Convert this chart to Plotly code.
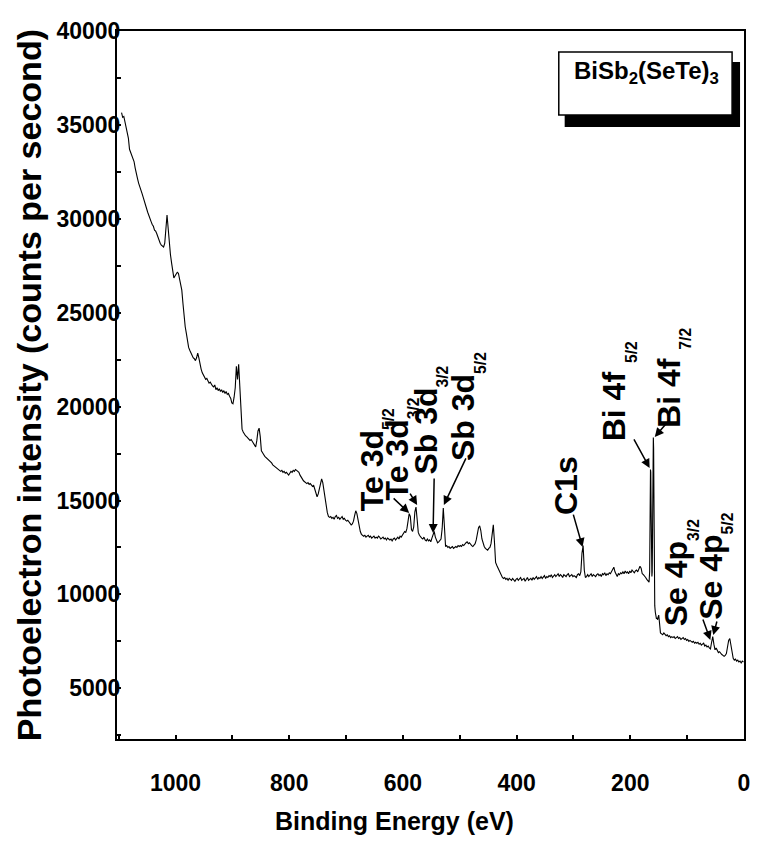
import plotly.graph_objects as go

# XPS survey spectrum of BiSb2(SeTe)3: binding energy (eV) and intensity (counts/s)
binding_energy = [
    1095, 1093, 1091, 1089, 1087, 1085, 1083, 1081, 1079, 1077, 1075, 1073, 1071, 1069, 1067, 1065,
    1063, 1061, 1059, 1057, 1055, 1053, 1051, 1049, 1047, 1045, 1043, 1041, 1039, 1037, 1035, 1033,
    1031, 1029, 1027, 1025, 1023, 1021, 1019, 1017, 1015, 1013, 1011, 1009, 1007, 1005, 1003, 1001,
    999, 997, 995, 993, 991, 989, 987, 985, 983, 981, 979, 977, 975, 973, 971, 969,
    967, 965, 963, 961, 959, 957, 955, 953, 951, 949, 947, 945, 943, 941, 939, 937,
    935, 933, 931, 929, 927, 925, 923, 921, 919, 917, 915, 913, 911, 909, 907, 905,
    903, 901, 899, 897, 895, 893, 891, 889, 887, 885, 883, 881, 879, 877, 875, 873,
    871, 869, 867, 865, 863, 861, 859, 857, 855, 853, 851, 849, 847, 845, 843, 841,
    839, 837, 835, 833, 831, 829, 827, 825, 823, 821, 819, 817, 815, 813, 811, 809,
    807, 805, 803, 801, 799, 797, 795, 793, 791, 789, 787, 785, 783, 781, 779, 777,
    775, 773, 771, 769, 767, 765, 763, 761, 759, 757, 755, 753, 751, 749, 747, 745,
    743, 741, 739, 737, 735, 733, 731, 729, 727, 725, 723, 721, 719, 717, 715, 713,
    711, 709, 707, 705, 703, 701, 699, 697, 695, 693, 691, 689, 687, 685, 683, 681,
    679, 677, 675, 673, 671, 669, 667, 665, 663, 661, 659, 657, 655, 653, 651, 649,
    647, 645, 643, 641, 639, 637, 635, 633, 631, 629, 627, 625, 623, 621, 619, 617,
    615, 613, 611, 609, 607, 605, 603, 601, 599, 597, 595, 593, 591, 589, 587, 585,
    583, 581, 579, 577, 575, 573, 571, 569, 567, 565, 563, 561, 559, 557, 555, 553,
    551, 549, 547, 545, 543, 541, 539, 537, 535, 533, 531, 529, 527, 525, 523, 521,
    519, 517, 515, 513, 511, 509, 507, 505, 503, 501, 499, 497, 495, 493, 491, 489,
    487, 485, 483, 481, 479, 477, 475, 473, 471, 469, 467, 465, 463, 461, 459, 457,
    455, 453, 451, 449, 447, 445, 443, 441, 439, 437, 435, 433, 431, 429, 427, 425,
    423, 421, 419, 417, 415, 413, 411, 409, 407, 405, 403, 401, 399, 397, 395, 393,
    391, 389, 387, 385, 383, 381, 379, 377, 375, 373, 371, 369, 367, 365, 363, 361,
    359, 357, 355, 353, 351, 349, 347, 345, 343, 341, 339, 337, 335, 333, 331, 329,
    327, 325, 323, 321, 319, 317, 315, 313, 311, 309, 307, 305, 303, 301, 299, 297,
    295, 293, 291, 289, 287, 285, 283, 281, 279, 277, 275, 273, 271, 269, 267, 265,
    263, 261, 259, 257, 255, 253, 251, 249, 247, 245, 243, 241, 239, 237, 235, 233,
    231, 229, 227, 225, 223, 221, 219, 217, 215, 213, 211, 209, 207, 205, 203, 201,
    199, 197, 195, 193, 191, 189, 187, 185, 183, 181, 179, 177, 175, 173, 171, 169,
    167, 166, 165.5, 165, 164.5, 164, 163.5, 163, 162.5, 162, 161.5, 161, 160.5, 160, 159.5, 159,
    158.5, 158, 157.5, 157, 156, 155, 154, 153, 152, 151, 150, 149, 148, 147, 145, 143,
    141, 139, 137, 135, 133, 131, 129, 127, 125, 123, 121, 119, 117, 115, 113, 111,
    109, 107, 105, 103, 101, 99, 97, 95, 93, 91, 89, 87, 85, 83, 81, 79,
    77, 75, 73, 71, 69, 67, 65, 63, 61, 59, 57, 55, 53, 51, 49, 47,
    45, 43, 41, 39, 37, 35, 33, 31, 29, 27, 25, 23, 21, 19, 17, 15,
    13, 11, 9, 7, 5, 3, 1,
]

intensity = [
    35650, 35400, 35450, 35150, 34900, 34750, 34300, 33700, 33550, 33400, 33250, 33050, 32700, 32350, 32150, 31900,
    31750, 31500, 31350, 31150, 30900, 30750, 30550, 30350, 30150, 30050, 29850, 29700, 29600, 29400, 29350, 29200,
    29000, 28850, 28700, 28600, 28550, 28500, 28700, 29300, 30200, 29500, 28700, 28100, 27650, 27200, 26850, 26950,
    27050, 27150, 27100, 26850, 26600, 26200, 25500, 24800, 24250, 23900, 23450, 23150, 23000, 22850, 22700, 22600,
    22550, 22450, 22600, 22850, 22600, 22200, 22000, 21800, 21650, 21600, 21450, 21500, 21350, 21250, 21300, 21150,
    21100, 21050, 21150, 20900, 21000, 20850, 20950, 20800, 20900, 20750, 20850, 20700, 20800, 20650, 20700, 20550,
    20450, 20200, 20150, 20500, 21000, 22150, 21450, 22250, 21000, 19500, 18800, 18650, 18500, 18450, 18400, 18350,
    18300, 18200, 18250, 18100, 18050, 17950, 17850, 18200, 18700, 18850, 18400, 17650, 17500, 17450, 17350, 17300,
    17200, 17150, 17100, 17050, 17000, 16900, 16850, 16800, 16750, 16700, 16650, 16600, 16550, 16600, 16500, 16550,
    16450, 16500, 16400, 16350, 16450, 16550, 16500, 16600, 16550, 16650, 16600, 16550, 16500, 16350, 16200, 16150,
    16050, 16000, 15950, 15900, 15950, 15850, 15900, 15850, 15750, 15800, 15600, 15400, 15200, 15350, 15650, 16000,
    16150, 15950, 15500, 15150, 14700, 14350, 14150, 14100, 14150, 14050, 14100, 14000, 14150, 14200, 14050, 14100,
    14000, 14050, 14150, 14000, 14050, 13950, 13900, 13950, 13850, 13800, 13700, 13750, 13900, 14200, 14450, 14300,
    13900, 13600, 13350, 13200, 13150, 13100, 13150, 13050, 13100, 13150, 13050, 13100, 13000, 13050, 13100, 13000,
    13050, 13000, 13100, 13050, 12950, 13000, 13050, 12950, 13000, 12900, 13000, 12950, 12900, 12950, 12850, 12950,
    13000, 12900, 13000, 13050, 12950, 13100, 13050, 13150, 13300, 13350, 13300, 13500, 13900, 14300, 14150, 13450,
    13350, 13600, 14400, 14650, 14000, 13300, 13150, 13050, 13000, 12950, 13050, 12900, 12850, 12950, 12850, 12900,
    12800, 13000, 13200, 13350, 13050, 12850, 12750, 12800, 12900, 12950, 13500, 14600, 13600, 12550, 12600, 12500,
    12550, 12450, 12500, 12550, 12450, 12500, 12550, 12500, 12600, 12550, 12600, 12550, 12650, 12600, 12700, 12750,
    12800, 12700, 12750, 12650, 12600, 12550, 12650, 12700, 12900, 13250, 13550, 13650, 13400, 12950, 12700, 12550,
    12450, 12400, 12350, 12450, 12500, 12700, 13400, 13700, 12800, 11700, 11550, 11400, 11300, 11150, 11000, 10900,
    10850, 10900, 10800, 10850, 10750, 10850, 10800, 10750, 10850, 10800, 10700, 10800, 10850, 10750, 10800, 10900,
    10750, 10800, 10850, 10700, 10800, 10900, 10750, 10800, 10850, 10750, 10900, 10800, 10850, 10950, 10800, 10900,
    10850, 10950, 10850, 10900, 11000, 10850, 10950, 10900, 11000, 10950, 11050, 10900, 10950, 11050, 10950, 11000,
    11100, 10950, 11050, 11000, 10900, 11050, 11000, 10950, 11050, 11100, 10950, 11000, 11050, 10950, 11000, 10950,
    10900, 11050, 11100, 11000, 11200, 12200, 12600, 11300, 10900, 10950, 11050, 10950, 11000, 11100, 10950, 11050,
    11000, 10950, 11050, 11100, 11000, 11050, 10950, 11100, 11050, 11150, 11000, 11100, 11050, 11150, 11100, 11200,
    11350, 11450, 11200, 11050, 10950, 11100, 11050, 11150, 11100, 11200, 11100, 11250, 11150, 11200, 11100, 11250,
    11150, 11300, 11200, 11150, 11250, 11300, 11200, 11350, 11500, 11400, 11100, 11050, 11000, 10900, 10800, 10700,
    10650, 11200, 13500, 15800, 16650, 16500, 14800, 12500, 11300, 10950, 11200, 12800, 15600, 18000, 18350, 17800,
    15500, 12800, 10700, 9400, 9050, 8800, 8700, 8750, 8650, 8800, 8900, 8600, 8150, 7950, 7900, 7850,
    7950, 7850, 7800, 7850, 7750, 7800, 7700, 7750, 7700, 7750, 7650, 7700, 7750, 7650, 7700, 7600,
    7650, 7700, 7600, 7650, 7550, 7600, 7500, 7550, 7500, 7450, 7500, 7400, 7450, 7400, 7450, 7350,
    7400, 7300, 7350, 7400, 7250, 7300, 7200, 7250, 7150, 7100, 7450, 7750, 7350, 7050, 7150, 7000,
    6900, 6950, 6850, 6800, 6750, 6700, 6750, 6850, 7200, 7550, 7650, 7200, 6850, 6600, 6500, 6550,
    6450, 6500, 6400, 6450, 6350, 6450, 6400,
]

# Peak labels: text, label anchor (BE, counts), arrow tail (BE, counts), arrow head (BE, counts)
peak_labels = [
    "Te 3d<sub><sub>5/2</sub></sub>", "Te 3d<sub><sub>3/2</sub></sub>",
    "Sb 3d<sub><sub>3/2</sub></sub>", "Sb 3d<sub><sub>5/2</sub></sub>",
    "C1s", "Bi 4f <sub><sub>5/2</sub></sub>", "Bi 4f <sub><sub>7/2</sub></sub>",
    "Se 4p<sub><sub>3/2</sub></sub>", "Se 4p<sub><sub>5/2</sub></sub>",
]
label_be = [648, 605, 554, 488, 314, 223, 127, 113, 52.3]
label_cps = [14330, 14870, 16250, 17000, 14120, 18060, 18750, 8210, 8530]
tail_be = [619, 589, 545, 488, 301, 195, 136, 73.2, 47.0]
tail_cps = [15190, 15450, 16250, 17320, 14330, 18330, 19130, 8744, 8637]
head_be = [589, 575, 547, 528, 284, 166, 157, 59.2, 54.0]
head_cps = [14330, 14760, 13270, 14760, 12520, 16730, 18380, 7572, 7838]

sample_name = "BiSb<sub>2</sub>(SeTe)<sub>3</sub>"

BOLD = "Arial, Liberation Sans, sans-serif"

fig = go.Figure()
fig.add_trace(go.Scatter(
    x=binding_energy, y=intensity, mode="lines",
    line=dict(color="black", width=1.1), showlegend=False,
))

for txt, lx, ly in zip(peak_labels, label_be, label_cps):
    fig.add_annotation(
        x=lx, y=ly, xref="x", yref="y", text=txt, textangle=-90,
        showarrow=False, xanchor="center", yanchor="bottom",
        font=dict(family=BOLD, size=32, color="black", weight="bold"),
    )

for tx, ty, hx, hy in zip(tail_be, tail_cps, head_be, head_cps):
    fig.add_annotation(
        x=hx, y=hy, ax=tx, ay=ty, xref="x", yref="y", axref="x", ayref="y",
        text="", showarrow=True, arrowhead=2, arrowsize=1.2, arrowwidth=1.5,
        arrowcolor="black", standoff=0,
    )

# sample name box with drop shadow
fig.add_shape(type="rect", xref="paper", yref="paper", x0=0.714, x1=0.9937, y0=0.8644, y1=0.9562,
              fillcolor="black", line=dict(width=0))
fig.add_shape(type="rect", xref="paper", yref="paper", x0=0.7046, x1=0.981, y0=0.8814, y1=0.9703,
              fillcolor="white", line=dict(color="black", width=1.5))
fig.add_annotation(
    x=0.8452, y=0.941, xref="paper", yref="paper", text=sample_name, showarrow=False,
    xanchor="center", yanchor="middle",
    font=dict(family=BOLD, size=24, color="black", weight="bold"),
)

# axis titles
fig.add_annotation(
    x=-0.14, y=0.5, xref="paper", yref="paper", textangle=-90, showarrow=False,
    text="Photoelectron intensity (counts per second)", xanchor="center", yanchor="middle",
    font=dict(family=BOLD, size=34, color="black", weight="bold"),
)
fig.add_annotation(
    x=0.442, y=-0.116, xref="paper", yref="paper", showarrow=False,
    text="Binding Energy (eV)", xanchor="center", yanchor="middle",
    font=dict(family=BOLD, size=25, color="black", weight="bold"),
)

fig.update_xaxes(
    range=[1103, 0], tickmode="linear", tick0=0, dtick=200, tickformat="d",
    ticks="inside", ticklen=4, tickwidth=1.5, tickcolor="black",
    minor=dict(dtick=100, tick0=0, ticks="inside", ticklen=4, tickwidth=1.5, tickcolor="black"),
    showline=True, linewidth=2, linecolor="black", mirror=True,
    showgrid=False, zeroline=False, ticklabelstandoff=22,
    tickfont=dict(family=BOLD, size=23, color="black", weight="bold"),
)
fig.update_yaxes(
    range=[2300, 40000], tickmode="linear", tick0=0, dtick=5000, tickformat="d",
    ticks="inside", ticklen=4, tickwidth=1.5, tickcolor="black",
    minor=dict(dtick=2500, tick0=0, ticks="inside", ticklen=4, tickwidth=1.5, tickcolor="black"),
    showline=True, linewidth=2, linecolor="black", mirror=True,
    showgrid=False, zeroline=False, ticklabelstandoff=-10,
    tickfont=dict(family=BOLD, size=23, color="black", weight="bold"),
)

fig.update_layout(
    width=762, height=843,
    margin=dict(l=117, r=12, t=31, b=104),
    paper_bgcolor="white", plot_bgcolor="white",
    showlegend=False,
)

fig.write_html("out.html")
